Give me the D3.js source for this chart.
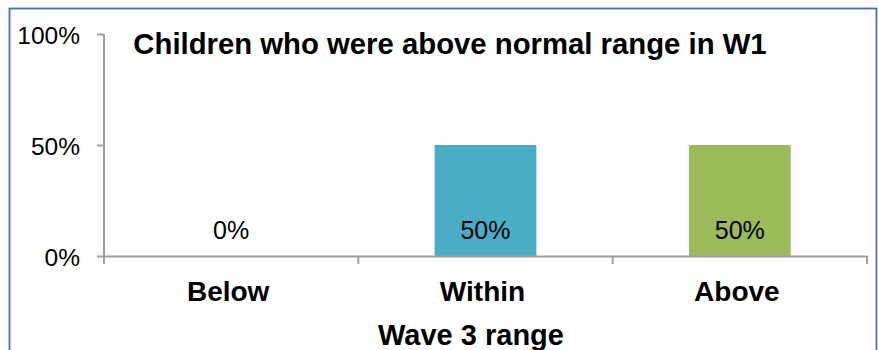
<!DOCTYPE html>
<html>
<head>
<meta charset="utf-8">
<script src="https://cdn.jsdelivr.net/npm/d3@7"></script>
<style>
  html, body { margin: 0; padding: 0; background: #ffffff; }
  svg { display: block; font-family: "Liberation Sans", Arial, sans-serif; }
</style>
</head>
<body>
<svg id="chart" width="878" height="350"></svg>
<script>
// Share of children by Wave 3 range (children above normal range in W1)
const categories = ["Below", "Within", "Above"];
const values = [0, 0.5, 0.5];
const barColors = ["#c0504d", "#4bacc6", "#9bbb59"];
const yTicks = [0, 0.5, 1];
const titleText = "Children who were above normal range in W1";
const xAxisTitle = "Wave 3 range";

const svg = d3.select("#chart");
const axisColor = "#a0a0a0";

// chart frame
svg.append("rect")
  .attr("x", 9.5).attr("y", 8.5)
  .attr("width", 867).attr("height", 360)
  .attr("fill", "#ffffff")
  .attr("stroke", "#4a6ea8")
  .attr("stroke-width", 1.8);

const plot = { left: 104, right: 867, top: 34, bottom: 256 };

const x = d3.scaleBand()
  .domain(categories)
  .range([plot.left, plot.right])
  .padding(0);

const y = d3.scaleLinear()
  .domain([0, 1])
  .range([plot.bottom, plot.top]);

const fmt = d3.format(".0%");

// bars
const barW = x.bandwidth() * 0.4;
svg.append("g").selectAll("rect")
  .data(categories)
  .join("rect")
  .attr("x", (d) => x(d) + (x.bandwidth() - barW) / 2)
  .attr("y", (d, i) => y(values[i]))
  .attr("width", barW)
  .attr("height", (d, i) => y(0) - y(values[i]))
  .attr("fill", (d, i) => barColors[i]);

// y axis
const yAxis = svg.append("g")
  .attr("transform", `translate(${plot.left},0)`)
  .call(d3.axisLeft(y).tickValues(yTicks).tickFormat(fmt).tickSize(7).tickSizeOuter(0).tickPadding(17));
yAxis.select(".domain").attr("stroke", axisColor).attr("stroke-width", 2)
  .attr("d", `M0,${plot.top}V${plot.bottom + 8}`);
yAxis.selectAll(".tick line").attr("stroke", axisColor).attr("stroke-width", 2);
yAxis.selectAll(".tick text")
  .attr("fill", "#000")
  .attr("dy", "0.37em")
  .style("font-size", "24.5px");

// x axis: baseline, boundary ticks and category labels
const xAxis = svg.append("g")
  .attr("transform", `translate(0,${plot.bottom})`)
  .call(d3.axisBottom(x).tickSize(0).tickSizeOuter(0).tickPadding(0));
xAxis.select(".domain").attr("stroke", axisColor).attr("stroke-width", 2);
xAxis.selectAll(".tick text")
  .attr("x", -3)
  .attr("y", 45)
  .attr("dy", 0)
  .attr("fill", "#000")
  .style("font-size", "28px")
  .style("font-weight", "bold");

const boundaries = categories.map((c) => x(c)).concat([x.range()[1]]);
xAxis.append("g").selectAll("line")
  .data(boundaries)
  .join("line")
  .attr("x1", (d) => d).attr("x2", (d) => d)
  .attr("y1", 0).attr("y2", 8)
  .attr("stroke", axisColor)
  .attr("stroke-width", 2);

// value labels inside/above bars
svg.append("g").selectAll("text")
  .data(categories)
  .join("text")
  .attr("x", (d) => x(d) + x.bandwidth() / 2)
  .attr("y", 239)
  .attr("text-anchor", "middle")
  .style("font-size", "25px")
  .attr("fill", "#000")
  .text((d, i) => fmt(values[i]));

// chart title
svg.append("text")
  .attr("x", 450)
  .attr("y", 54)
  .attr("text-anchor", "middle")
  .style("font-size", "29.3px")
  .style("font-weight", "bold")
  .attr("fill", "#000")
  .text(titleText);

// axis title
svg.append("text")
  .attr("x", 471)
  .attr("y", 345)
  .attr("text-anchor", "middle")
  .style("font-size", "29px")
  .style("font-weight", "bold")
  .attr("fill", "#000")
  .text(xAxisTitle);
</script>
</body>
</html>
